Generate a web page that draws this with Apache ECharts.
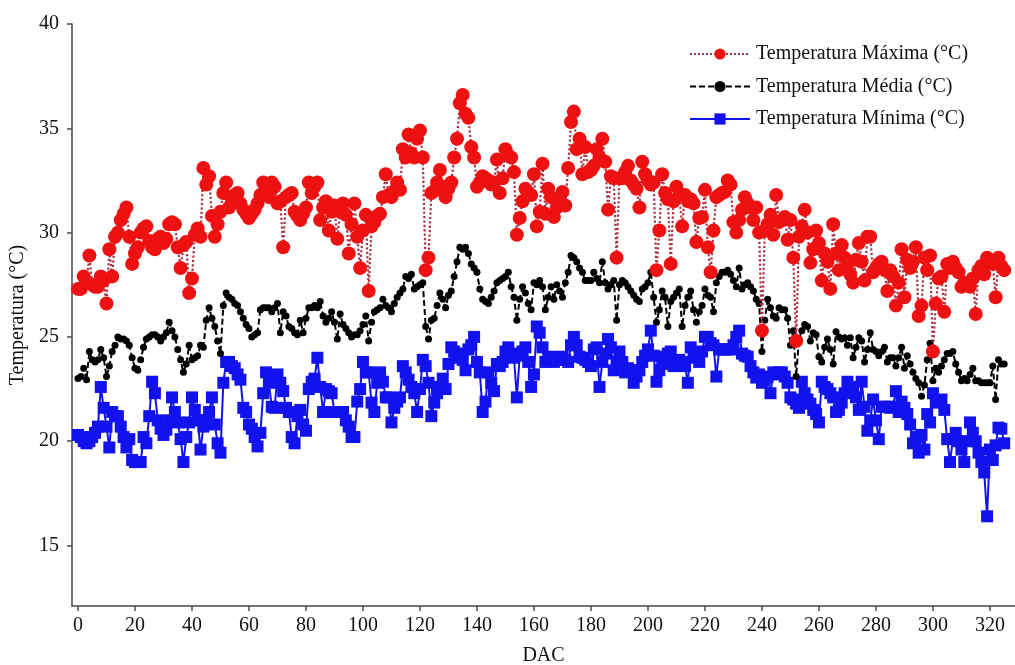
<!DOCTYPE html>
<html>
<head>
<meta charset="utf-8">
<script src="https://cdn.jsdelivr.net/npm/echarts@6/dist/echarts.min.js"></script>
<style>
  html, body { margin: 0; padding: 0; background: #fff; }
  #chart { width: 1015px; height: 665px; }
</style>
</head>
<body>
<div id="chart"></div>
<script>
// Eixos: marcas rotuladas
const ticksDAC = [0, 20, 40, 60, 80, 100, 120, 140, 160, 180, 200, 220, 240, 260, 280, 300, 320];
const ticksTemperatura = [15, 20, 25, 30, 35, 40];

// Nomes das séries (legenda)
const nomeMaxima = 'Temperatura Máxima (°C)';
const nomeMedia = 'Temperatura Média (°C)';
const nomeMinima = 'Temperatura Mínima (°C)';

// Temperaturas diárias, dia 0 em diante (DAC)
const temperaturaMaxima = [
  27.3, 27.3, 27.9, 27.6, 28.9, 27.5, 27.4, 27.4, 27.9, 27.7,
  26.6, 29.2, 27.9, 29.8, 30.0, 30.6, 30.9, 31.2, 29.8, 28.5,
  29.0, 29.3, 30.0, 30.2, 30.3, 29.6, 29.3, 29.2, 29.7, 29.8,
  29.5, 29.7, 30.4, 30.5, 30.4, 29.3, 28.3, 29.4, 29.55, 27.1,
  27.8, 29.9, 30.2, 29.8, 33.1, 32.3, 32.7, 30.8, 29.8, 30.4,
  31.0, 31.9, 32.4, 31.2, 31.6, 31.8, 31.9, 31.4, 31.1, 30.9,
  30.7, 30.9, 31.1, 31.4, 31.8, 32.4, 32.1, 31.7, 32.4, 32.2,
  31.4, 31.5, 29.3, 31.7, 31.8, 31.9, 31.0, 30.8, 30.6, 30.9,
  31.2, 32.4, 31.9, 32.2, 32.4, 30.6, 31.2, 31.5, 30.1, 31.0,
  31.3, 29.7, 31.0, 31.4, 30.85, 29.0, 30.4, 31.4, 29.8, 28.3,
  30.1, 30.85, 27.2, 30.3, 30.5, 30.8, 30.9, 31.7, 32.8, 31.8,
  31.7, 32.0, 32.4, 32.05, 34.0, 33.6, 34.7, 33.8, 33.6, 34.5,
  34.9, 33.6, 28.2, 28.8, 31.9, 32.0, 32.4, 33.0, 32.2, 31.7,
  32.1, 32.4, 33.6, 34.5, 36.2, 36.6, 35.7, 35.5, 34.1, 33.6,
  32.2, 32.4, 32.7, 32.6, 32.5, 32.3, 32.4, 33.5, 31.9, 32.6,
  34.0, 33.7, 33.6, 32.9, 29.9, 30.7, 31.5, 32.1, 31.9, 31.8,
  32.8, 30.3, 31.0, 33.3, 30.9, 32.1, 31.7, 30.75, 31.2, 31.5,
  31.95, 31.3, 33.1, 35.3, 35.8, 34.0, 34.5, 32.8, 34.1, 32.9,
  33.0, 33.2, 34.0, 33.6, 34.5, 33.4, 31.1, 32.7, 32.6, 28.8,
  32.6, 32.6, 32.9, 33.2, 32.5, 32.3, 32.1, 31.2, 33.4, 32.8,
  32.5, 32.3, 32.4, 28.2, 30.1, 32.8, 31.9, 31.6, 28.5, 31.5,
  32.2, 31.8, 30.3, 31.8, 31.5, 31.6, 31.4, 29.55, 30.7, 30.75,
  32.05, 29.3, 28.1, 30.1, 31.7, 31.8, 31.9, 31.95, 32.5, 32.3,
  30.5, 30.0, 30.6, 31.1, 31.7, 31.4, 31.2, 30.6, 31.2, 30.0,
  25.3, 30.1, 30.4, 30.85, 29.9, 31.8, 30.5, 30.6, 30.75, 29.66,
  30.6, 28.8, 24.8, 29.8, 30.3, 31.1, 30.0, 28.55, 29.2, 30.1,
  29.5, 27.7, 29.0, 28.6, 27.3, 30.4, 29.0, 28.2, 29.4, 28.8,
  28.5, 28.0, 27.6, 28.7, 29.5, 28.6, 27.7, 29.8, 29.8, 28.1,
  28.3, 28.5, 28.6, 28.2, 27.2, 28.2, 27.9, 26.5, 27.6, 29.2,
  26.9, 28.7, 28.3, 28.6, 29.3, 26.0, 26.5, 28.8, 28.2, 28.9,
  24.3, 26.6, 27.8, 27.9, 26.2, 28.5, 28.3, 28.6, 28.3, 28.1,
  27.4, 27.6, 27.5, 27.4, 27.8, 26.1, 28.2, 28.4, 28.0, 28.8,
  28.6, 28.5, 26.9, 28.8, 28.4, 28.2
];

const temperaturaMedia = [
  23.0, 23.1, 23.5, 22.95, 24.3, 23.9, 23.8, 23.9, 24.4, 24.0,
  23.1, 23.6, 24.3, 24.6, 25.0, 24.9, 24.9, 24.8, 24.6, 24.0,
  23.5, 23.4, 23.9, 24.5, 24.9, 25.0, 25.1, 25.1, 25.0, 24.8,
  25.0, 25.2, 25.7, 25.3, 25.0, 24.4, 23.9, 23.3, 23.7, 24.6,
  23.9, 24.0, 24.1, 24.6, 24.5, 25.8, 26.4, 25.9, 25.5, 24.8,
  24.2, 26.5, 27.1, 26.9, 26.8, 26.6, 26.5, 26.2, 25.9, 25.6,
  25.4, 25.0, 25.1, 25.2, 26.3, 26.4, 26.4, 26.4, 26.2, 26.4,
  26.6, 25.2, 26.2, 26.0, 25.5, 25.4, 25.2, 25.1, 25.8, 25.2,
  25.9, 26.4, 26.4, 26.5, 26.4, 26.7, 26.0, 25.7, 25.9, 26.2,
  25.7, 24.9, 26.1, 25.6, 25.4, 25.2, 25.0, 25.1, 25.1, 25.3,
  25.6, 26.0, 24.8, 25.7, 26.2, 26.3, 26.4, 26.8, 26.5, 26.4,
  26.2, 26.6, 26.9, 27.1, 27.3, 27.9, 27.8, 28.0, 27.3, 27.4,
  27.5, 27.6, 25.5, 24.9, 25.8, 25.9, 26.5, 27.1, 26.8, 26.4,
  27.0, 27.2, 27.9, 28.6, 29.3, 29.2, 29.3, 29.0, 28.5, 28.3,
  28.1, 27.3, 26.8, 26.7, 26.6, 26.9, 27.2, 27.6, 27.7, 27.8,
  27.9, 28.1, 27.4, 26.9, 25.8, 26.8, 27.4, 27.1, 26.6, 26.3,
  27.6, 27.5, 27.7, 27.4, 26.3, 26.9, 27.4, 26.8, 27.5, 27.2,
  26.9, 27.6, 28.1, 28.9, 28.8, 28.6, 28.3, 28.1, 27.7, 27.7,
  27.7, 28.1, 27.8, 27.6, 28.6, 27.6, 27.3, 27.5, 27.7, 25.8,
  27.5, 27.7, 27.6, 27.4, 27.2, 27.0, 26.8, 26.7, 27.3, 27.4,
  27.6, 28.1, 26.9, 25.7, 26.3, 27.2, 26.9, 25.5, 26.7, 26.9,
  27.1, 27.3, 25.5, 26.5, 26.9, 27.2, 26.3, 25.7, 26.2, 26.5,
  27.3, 27.0, 26.9, 26.2, 27.6, 27.9, 28.1, 28.1, 28.2, 28.0,
  27.7, 27.4, 28.3, 27.3, 27.5, 27.6, 27.4, 27.2, 26.8, 26.6,
  24.3, 25.8, 26.8, 26.4, 26.0, 25.9, 26.4, 26.3, 26.3, 25.9,
  24.6, 25.3, 23.1, 24.9, 25.3, 25.6, 25.5, 24.8, 25.2, 25.1,
  24.05, 23.8, 24.5, 24.9, 24.4, 23.7, 25.25, 25.0, 24.9, 24.96,
  24.6, 24.96, 24.0, 24.5, 24.96, 24.8, 23.8, 24.4, 25.2, 24.4,
  24.3, 24.1, 24.3, 24.5, 23.8, 24.0, 24.0, 23.6, 24.0, 24.5,
  23.5, 24.1, 23.7, 23.3, 23.0, 22.8, 22.15, 22.7, 23.9, 24.7,
  22.9, 23.5, 23.3, 23.6, 23.9, 24.2, 24.2, 24.3, 23.7, 23.3,
  22.9, 23.0, 22.9, 23.2, 23.5, 22.9, 22.9, 22.8, 22.8, 22.8,
  22.8, 23.6, 22.0, 23.9, 23.7, 23.7
];

const temperaturaMinima = [
  20.3, 20.2, 20.0, 19.9, 20.0, 20.2, 20.4, 20.7, 22.6, 21.6,
  20.7, 19.7, 21.4, 21.2, 21.2, 20.7, 20.2, 19.7, 20.1, 19.1,
  19.0, 19.0, 19.0, 20.2, 19.9, 21.2, 22.85, 22.3, 21.0, 20.6,
  20.3, 20.55, 21.0, 22.1, 21.4, 20.9, 20.1, 19.0, 20.2, 20.9,
  22.1, 21.5, 21.0, 19.6, 20.7, 21.0, 21.4, 22.1, 20.8, 19.9,
  19.45, 22.8, 23.8, 23.8, 23.6, 23.5, 23.2, 22.95, 21.6, 21.4,
  20.8, 20.6, 20.2, 19.75, 20.4, 22.3, 23.3, 22.8, 21.65, 21.6,
  23.2, 22.8, 22.4, 21.6, 21.4, 20.2, 19.9, 21.2, 21.5, 20.8,
  20.5, 22.5, 22.85, 23.0, 24.0, 22.6, 21.4, 22.5, 22.4, 22.3,
  21.4, 21.4, 21.4, 21.4, 21.0, 20.7, 20.2, 20.2, 21.9, 22.5,
  23.8, 23.3, 23.3, 21.85, 21.4, 22.8, 23.3, 22.85, 22.1, 22.1,
  20.9, 21.6, 21.9, 22.1, 23.6, 23.3, 22.95, 22.6, 22.3, 21.4,
  22.5, 23.9, 23.6, 22.8, 21.2, 21.85, 22.3, 22.6, 23.0, 22.5,
  23.7, 24.5, 24.3, 24.2, 24.0, 23.9, 23.4, 24.4, 24.6, 25.0,
  23.8, 23.3, 21.4, 21.9, 23.3, 22.8, 22.4, 23.7, 23.6, 23.8,
  24.3, 24.5, 24.2, 24.0, 22.1, 24.1, 24.3, 24.5, 23.8, 22.6,
  23.2, 25.5, 25.2, 24.5, 23.8, 24.0, 24.05, 23.8, 23.9, 24.0,
  24.05, 23.9, 23.8, 24.6, 25.0, 24.6, 24.05, 24.0, 23.9, 23.8,
  23.6, 24.4, 24.5, 22.6, 23.8, 24.2, 24.9, 24.5, 23.4, 23.8,
  24.3, 23.8, 23.3, 23.5, 23.4, 22.8, 23.1, 23.4, 23.8, 24.1,
  24.4, 25.3, 24.1, 22.85, 23.4, 23.7, 24.05, 24.2, 24.3, 23.6,
  23.8, 23.9, 23.8, 23.6, 22.8, 24.5, 24.05, 24.0, 23.8, 24.3,
  25.0, 25.0, 24.7, 24.6, 23.1, 24.4, 24.4, 24.4, 24.4, 24.4,
  24.6, 25.0, 25.3, 24.2, 24.1, 24.05, 23.6, 23.3, 23.05, 23.2,
  22.8, 23.0, 23.1, 22.3, 23.3, 23.2, 23.3, 23.3, 23.1, 22.8,
  22.1, 22.0, 21.8, 21.6, 22.85, 22.3, 22.0, 21.8, 21.5, 21.3,
  20.9, 22.85, 22.6, 22.5, 22.3, 22.1, 21.4, 21.5, 21.85, 22.3,
  22.85, 22.6, 22.6, 22.1, 21.5, 22.85, 21.65, 20.5, 21.0, 22.0,
  21.0, 20.1, 21.65, 21.65, 21.65, 21.6, 21.65, 22.4, 21.4, 21.9,
  21.6, 21.3, 20.8, 19.9, 20.2, 19.45, 20.3, 19.6, 21.3, 20.9,
  22.3, 21.85, 21.9, 22.0, 21.5, 20.1, 19.0, 20.1, 20.4, 20.0,
  19.6, 19.0, 20.0, 20.9, 20.4, 20.0, 19.45, 19.0, 18.5, 16.4,
  19.6, 19.1, 19.8, 20.65, 20.6, 19.9
];

// [dia, valor] para o eixo numérico de DAC
const porDia = serie => serie.map((v, dia) => [dia, v]);

const fonte = 'Liberation Serif, Times New Roman, serif';
const corEixo = '#4a4a4a';

const chart = echarts.init(document.getElementById('chart'), null, { renderer: 'canvas' });

chart.setOption({
  animation: false,
  backgroundColor: '#ffffff',
  textStyle: { fontFamily: fonte, color: '#111' },
  grid: { left: 72, right: 0, top: 24, bottom: 59, containLabel: false, outerBoundsMode: 'none' },
  legend: {
    orient: 'vertical',
    left: 684,
    top: 39,
    itemWidth: 60,
    itemHeight: 14,
    itemGap: 12.5,
    data: [nomeMaxima, nomeMedia, nomeMinima],
    textStyle: { fontFamily: fonte, fontSize: 20, color: '#111', lineHeight: 20, padding: [0, 0, 0, 1] }
  },
  xAxis: {
    type: 'value',
    min: -2.1,
    max: 328.8,
    name: 'DAC',
    nameLocation: 'middle',
    nameGap: 40,
    nameTextStyle: { fontFamily: fonte, fontSize: 20, color: '#111' },
    axisLine: { show: true, onZero: false, lineStyle: { color: corEixo, width: 1.5 } },
    axisTick: { show: true, length: 5, customValues: ticksDAC, lineStyle: { color: corEixo, width: 1.5 } },
    axisLabel: { customValues: ticksDAC, fontFamily: fonte, fontSize: 20, color: '#111', margin: 10 },
    splitLine: { show: false }
  },
  yAxis: {
    type: 'value',
    min: 12.1,
    max: 40,
    name: 'Temperatura (°C)',
    nameLocation: 'middle',
    nameGap: 41,
    nameTextStyle: { fontFamily: fonte, fontSize: 20, color: '#111' },
    axisLine: { show: true, onZero: false, lineStyle: { color: corEixo, width: 1.5 } },
    axisTick: { show: true, length: 5, customValues: ticksTemperatura, lineStyle: { color: corEixo, width: 1.5 } },
    axisLabel: { customValues: ticksTemperatura, fontFamily: fonte, fontSize: 20, color: '#111', margin: 13 },
    splitLine: { show: false }
  },
  series: [
    {
      name: nomeMaxima,
      type: 'line',
      z: 4,
      data: porDia(temperaturaMaxima),
      symbol: 'circle',
      symbolSize: 14,
      showAllSymbol: true,
      itemStyle: { color: '#ee1111' },
      lineStyle: { color: '#a83246', width: 2.2, type: 'dotted' }
    },
    {
      name: nomeMedia,
      type: 'line',
      z: 3,
      data: porDia(temperaturaMedia),
      symbol: 'circle',
      symbolSize: 7,
      showAllSymbol: true,
      itemStyle: { color: '#000000' },
      lineStyle: { color: '#000000', width: 2, type: [6, 3] }
    },
    {
      name: nomeMinima,
      type: 'line',
      z: 2,
      data: porDia(temperaturaMinima),
      symbol: 'rect',
      symbolSize: 12,
      showAllSymbol: true,
      itemStyle: { color: '#1212ee' },
      lineStyle: { color: '#1212ee', width: 2 }
    }
  ]
});
</script>
</body>
</html>
